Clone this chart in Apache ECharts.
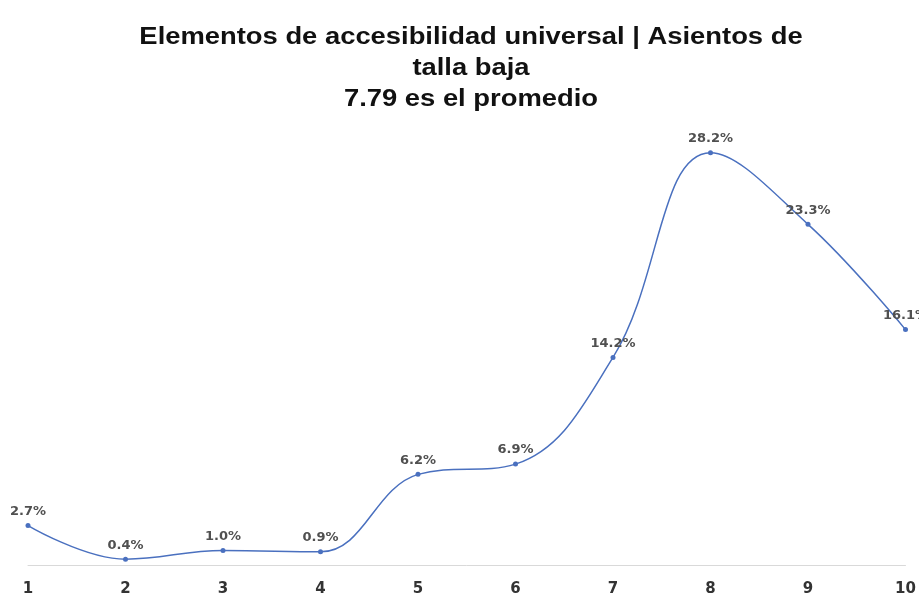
<!DOCTYPE html>
<html>
<head>
<meta charset="utf-8">
<script src="https://cdn.jsdelivr.net/npm/echarts@6/dist/echarts.min.js"></script>
<style>html,body{margin:0;padding:0;background:#fff;}#c{width:919px;height:605px;}</style>
</head>
<body>
<div id="c"></div>
<script>
const categories = ['1','2','3','4','5','6','7','8','9','10'];
const values = [2.7, 0.4, 1.0, 0.9, 6.2, 6.9, 14.2, 28.2, 23.3, 16.1];
const titleText = 'Elementos de accesibilidad universal | Asientos de\ntalla baja\n7.79 es el promedio';
const FONT = '"Liberation Sans", Arial, sans-serif';
const WIDE = '"DejaVu Sans", sans-serif';

const chart = echarts.init(document.getElementById('c'), null, {renderer: 'canvas'});
chart.setOption({
  backgroundColor: '#ffffff',
  animation: false,
  graphic: [{
    type: 'text',
    x: 471,
    y: 22,
    scaleX: 1.19,
    originX: 0,
    style: {
      text: titleText,
      align: 'center',
      verticalAlign: 'top',
      font: 'bold 23px ' + FONT,
      lineHeight: 31,
      fill: '#111111'
    }
  }],
  grid: {left: 28, right: 13.5, top: 126.4, bottom: 40, containLabel: false},
  xAxis: {
    type: 'category',
    data: categories,
    boundaryGap: false,
    axisLine: {show: true, lineStyle: {color: '#d9d9d9', width: 1}},
    axisTick: {show: false},
    axisLabel: {
      margin: 17,
      fontFamily: WIDE,
      fontSize: 15,
      fontWeight: 'bold',
      color: '#333333'
    },
    splitLine: {show: false}
  },
  yAxis: {
    type: 'value',
    min: 0,
    max: 30,
    show: false
  },
  series: [{
    type: 'line',
    data: values,
    smooth: 0.4,
    symbol: 'circle',
    symbolSize: 5,
    lineStyle: {color: '#4a70bf', width: 1.5},
    itemStyle: {color: '#4a70bf'},
    label: {
      show: true,
      position: 'top',
      distance: 5,
      formatter: p => p.value.toFixed(1) + '%',
      fontFamily: WIDE,
      fontSize: 13,
      fontWeight: 'bold',
      color: '#505050'
    }
  }]
});
</script>
</body>
</html>
